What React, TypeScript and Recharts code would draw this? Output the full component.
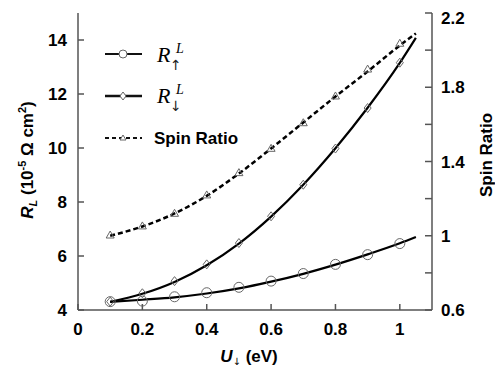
import React from 'react';
import { ComposedChart, Line, XAxis, YAxis, Legend } from 'recharts';

// measured points
const xValues = [0.1, 0.2, 0.3, 0.4, 0.5, 0.6, 0.7, 0.8, 0.9, 1.0];
const rUpPoints = [4.31, 4.33, 4.49, 4.64, 4.84, 5.07, 5.35, 5.69, 6.05, 6.46];
const rDownPoints = [4.31, 4.62, 5.07, 5.69, 6.48, 7.47, 8.64, 9.98, 11.48, 13.16];
const spinPoints = [1.004, 1.053, 1.121, 1.22, 1.34, 1.471, 1.609, 1.753, 1.898, 2.037];

// fitted curves
const fitX = [0.1, 0.2, 0.3, 0.4, 0.5, 0.6, 0.7, 0.8, 0.9, 1.0, 1.05];
const rUpFit = [4.3, 4.38, 4.47, 4.61, 4.8, 5.05, 5.34, 5.68, 6.06, 6.47, 6.7];
const rDownFit = [4.3, 4.6, 5.04, 5.66, 6.46, 7.46, 8.64, 9.99, 11.49, 13.15, 14.08];
const spinFit = [1.0, 1.05, 1.12, 1.215, 1.335, 1.47, 1.61, 1.75, 1.885, 2.025, 2.09];

const xTicks = [0, 0.2, 0.4, 0.6, 0.8, 1];
const leftTicks = [4, 6, 8, 10, 12, 14];
const rightTicks = [0.6, 0.8, 1, 1.2, 1.4, 1.6, 1.8, 2, 2.2];
const rightLabelled = [0.6, 1, 1.4, 1.8, 2.2];

const data = fitX.map((x, i) => ({
  x,
  rUpFit: rUpFit[i],
  rDownFit: rDownFit[i],
  spinFit: spinFit[i],
  rUp: i < xValues.length ? rUpPoints[i] : null,
  rDown: i < xValues.length ? rDownPoints[i] : null,
  spin: i < xValues.length ? spinPoints[i] : null,
}));

const FONT = '"Liberation Sans", Arial, Helvetica, sans-serif';
const SERIF = '"Liberation Serif", "Times New Roman", serif';
const ARROW = '"DejaVu Sans", sans-serif';
const AXIS = '#555';

const CircleDot = (props: any) => {
  const { cx, cy, value, index } = props;
  if (value == null || cx == null || cy == null) return <g key={`c${index}`} />;
  return <circle key={`c${index}`} cx={cx} cy={cy} r={5} fill="none" stroke="#666" strokeWidth={1} />;
};
const DiamondDot = (props: any) => {
  const { cx, cy, value, index } = props;
  if (value == null || cx == null || cy == null) return <g key={`d${index}`} />;
  return (
    <path key={`d${index}`} d={`M${cx},${cy - 4.5}L${cx + 3.5},${cy}L${cx},${cy + 4.5}L${cx - 3.5},${cy}Z`}
      fill="none" stroke="#666" strokeWidth={1} />
  );
};
const TriangleDot = (props: any) => {
  const { cx, cy, value, index } = props;
  if (value == null || cx == null || cy == null) return <g key={`t${index}`} />;
  return (
    <path key={`t${index}`} d={`M${cx},${cy - 4}L${cx + 4},${cy + 3}L${cx - 4},${cy + 3}Z`}
      fill="none" stroke="#666" strokeWidth={1} />
  );
};

const LegendContent = () => (
  <svg width={170} height={120} style={{ overflow: 'visible', display: 'block' }}>
    <line x1={7} y1={16} x2={44} y2={16} stroke="#111" strokeWidth={1.8} />
    <circle cx={25} cy={16} r={4} fill="#fff" stroke="#666" strokeWidth={1} />
    <text x={59} y={24} fontFamily={SERIF} fontStyle="italic" fontSize={22}>R</text>
    <text x={78} y={15} fontFamily={SERIF} fontStyle="italic" fontSize={14}>L</text>
    <text x={72} y={32} fontFamily={ARROW} fontSize={14} fill="#222">↑</text>

    <line x1={7} y1={58} x2={44} y2={58} stroke="#111" strokeWidth={2.6} />
    <path d="M25,54L28,58L25,62L22,58Z" fill="#fff" stroke="#666" strokeWidth={1} />
    <text x={59} y={65} fontFamily={SERIF} fontStyle="italic" fontSize={22}>R</text>
    <text x={78} y={56} fontFamily={SERIF} fontStyle="italic" fontSize={14}>L</text>
    <text x={72} y={73} fontFamily={ARROW} fontSize={14} fill="#222">↓</text>

    <line x1={7} y1={100} x2={44} y2={100} stroke="#111" strokeWidth={2.2} strokeDasharray="4 3" />
    <path d="M25,97L28,102L22,102Z" fill="#fff" stroke="#666" strokeWidth={1} />
    <text x={56} y={106} fontFamily={FONT} fontWeight="bold" fontSize={17}>Spin Ratio</text>
  </svg>
);

const tickStyle = { fontFamily: FONT, fontWeight: 'bold', fontSize: 17, fill: '#000' } as any;

export default function App() {
  return (
    <ComposedChart width={495} height={360} data={data}
      margin={{ top: 5, right: 11, bottom: 18, left: 0 }}>
      <XAxis dataKey="x" type="number" domain={[0, 1.1]} ticks={xTicks} xAxisId={0}
        allowDataOverflow height={40} stroke={AXIS} strokeWidth={1.5}
        tickSize={-6} tickMargin={19} tick={tickStyle}
        tickFormatter={(v: number) => String(v)}
        label={{
          content: () => (
            <text x={241} y={354} textAnchor="middle" fontFamily={FONT} fontWeight="bold" fontSize={17} fill="#000">
              <tspan fontStyle="italic">U</tspan>
              <tspan fontFamily={ARROW} fontWeight="normal" fontSize={10} dy={3}>↓</tspan>
              <tspan dy={-3}> (eV)</tspan>
            </text>
          ),
        }} />
      <XAxis xAxisId="top" orientation="top" type="number" domain={[0, 1.1]} ticks={xTicks}
        allowDataOverflow height={0} stroke={AXIS} strokeWidth={1.5} tickSize={-6} tick={false} />
      <YAxis yAxisId="left" type="number" domain={[4, 15]} ticks={leftTicks} allowDataOverflow
        width={70} stroke={AXIS} strokeWidth={1.5} tickSize={-6} tickMargin={17} tick={tickStyle}
        label={{
          content: () => (
            <text x={25} y={152} transform="rotate(-90,25,152)" textAnchor="middle"
              fontFamily={FONT} fontWeight="bold" fontSize={17} fill="#000">
              <tspan fontStyle="italic">R</tspan>
              <tspan fontStyle="italic" fontSize={11} dy={4}>L</tspan>
              <tspan dy={-4}> (10</tspan>
              <tspan fontSize={11} dy={-7}>-5</tspan>
              <tspan dy={7}> Ω cm</tspan>
              <tspan fontSize={11} dy={-7}>2</tspan>
              <tspan dy={7}>)</tspan>
            </text>
          ),
        }} />
      <YAxis yAxisId="right" orientation="right" type="number" domain={[0.6, 2.2]} ticks={rightTicks}
        allowDataOverflow width={60} stroke={AXIS} strokeWidth={1.5} tickSize={-7} tickMargin={16}
        tick={tickStyle}
        tickFormatter={(v: number) => (rightLabelled.some((t) => Math.abs(t - v) < 1e-6) ? String(v) : '')}
        label={{
          content: () => (
            <text x={484} y={147} transform="rotate(-90,484,147)" textAnchor="middle"
              fontFamily={FONT} fontWeight="bold" fontSize={17} fill="#000">Spin Ratio</text>
          ),
        }} />

      <Line yAxisId="left" dataKey="rUp" stroke="none" dot={CircleDot} activeDot={false} isAnimationActive={false} legendType="none" />
      <Line yAxisId="left" dataKey="rDown" stroke="none" dot={DiamondDot} activeDot={false} isAnimationActive={false} legendType="none" />
      <Line yAxisId="right" dataKey="spin" stroke="none" dot={TriangleDot} activeDot={false} isAnimationActive={false} legendType="none" />

      <Line yAxisId="left" dataKey="rUpFit" type="monotone" stroke="#000" strokeWidth={2.2} dot={false} activeDot={false} isAnimationActive={false} />
      <Line yAxisId="left" dataKey="rDownFit" type="monotone" stroke="#000" strokeWidth={2.2} dot={false} activeDot={false} isAnimationActive={false} />
      <Line yAxisId="right" dataKey="spinFit" type="monotone" stroke="#000" strokeWidth={2.5} strokeDasharray="5 3" dot={false} activeDot={false} isAnimationActive={false} />

      <Legend layout="horizontal" verticalAlign="middle" align="center" content={LegendContent}
        wrapperStyle={{ position: 'absolute', left: 90, top: 30, width: 170, height: 120 }} />
    </ComposedChart>
  );
}
